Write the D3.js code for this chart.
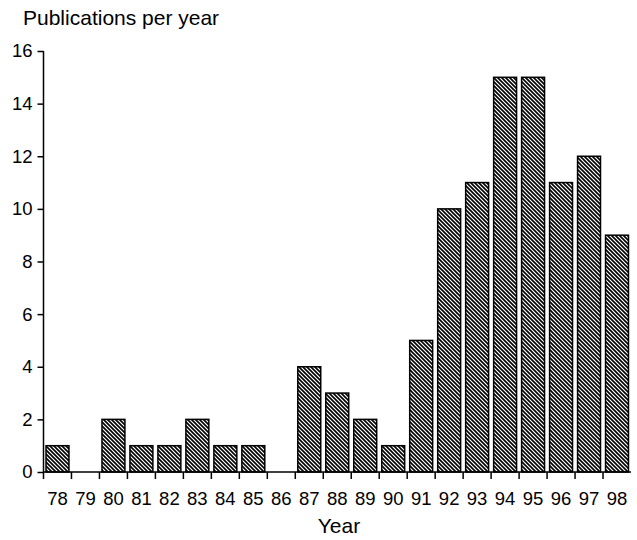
<!DOCTYPE html>
<html>
<head>
<meta charset="utf-8">
<script src="https://cdn.jsdelivr.net/npm/d3@7"></script>
<style>
  body { margin: 0; background: #fff; }
  text { font-family: "Liberation Sans", Arial, sans-serif; fill: #000; }
</style>
</head>
<body>
<div id="chart"></div>
<script>
// data
var years = ["78","79","80","81","82","83","84","85","86","87","88","89","90","91","92","93","94","95","96","97","98"];
var counts = [1,0,2,1,1,2,1,1,0,4,3,2,1,5,10,11,15,15,11,12,9];
var yTicks = [0,2,4,6,8,10,12,14,16];

var width = 637, height = 540;
var margin = { top: 51, right: 6, bottom: 68, left: 43.5 };

var svg = d3.select("#chart").append("svg")
  .attr("width", width)
  .attr("height", height);

// hatch fill
var defs = svg.append("defs");
defs.append("pattern")
  .attr("id", "hatch")
  .attr("patternUnits", "userSpaceOnUse")
  .attr("width", 4)
  .attr("height", 4)
  .append("path")
  .attr("d", "M-1,-1L5,5M-1,3L1,5M3,-1L5,1")
  .attr("stroke", "#000")
  .attr("stroke-width", 1.6);

var x = d3.scaleBand()
  .domain(years)
  .range([margin.left, width - margin.right])
  .paddingInner(0.18)
  .paddingOuter(0.09);

var y = d3.scaleLinear()
  .domain([0, 16])
  .range([height - margin.bottom, margin.top]);

// bars
svg.selectAll("rect.bar")
  .data(years.map((d, i) => ({ year: d, n: counts[i] })).filter(d => d.n > 0))
  .enter()
  .append("rect")
  .attr("class", "bar")
  .attr("x", d => x(d.year))
  .attr("width", x.bandwidth())
  .attr("y", d => y(d.n))
  .attr("height", d => y(0) - y(d.n))
  .attr("fill", "url(#hatch)")
  .attr("stroke", "#000")
  .attr("stroke-width", 1.5);

// y axis
var yAxis = svg.append("g")
  .attr("transform", "translate(" + margin.left + ",0)")
  .call(d3.axisLeft(y).tickValues(yTicks).tickSize(6).tickPadding(5));
yAxis.select(".domain").attr("d", "M0," + y(16) + "V" + y(0)).attr("stroke-width", 1.5);
yAxis.selectAll(".tick line").attr("stroke-width", 1.5);
yAxis.selectAll("text").attr("font-size", 18.5);

// x axis, ticks at band boundaries
var edges = d3.range(years.length + 1).map(i => margin.left + i * (width - margin.right - margin.left) / years.length);
var xg = svg.append("g");
xg.append("line")
  .attr("x1", margin.left).attr("x2", width - margin.right)
  .attr("y1", y(0)).attr("y2", y(0))
  .attr("stroke", "#000").attr("stroke-width", 1.5);
xg.selectAll("line.tk")
  .data(edges.slice(0, years.length))
  .enter().append("line")
  .attr("class", "tk")
  .attr("x1", d => d).attr("x2", d => d)
  .attr("y1", y(0)).attr("y2", y(0) + 7)
  .attr("stroke", "#000").attr("stroke-width", 1.5);
xg.selectAll("text")
  .data(years)
  .enter().append("text")
  .attr("x", d => x(d) + x.bandwidth() / 2)
  .attr("y", y(0) + 33)
  .attr("text-anchor", "middle")
  .attr("font-size", 18.5)
  .text(d => d);

// titles
svg.append("text")
  .attr("x", 23).attr("y", 25)
  .attr("font-size", 21)
  .text("Publications per year");

svg.append("text")
  .attr("x", 339).attr("y", 533)
  .attr("text-anchor", "middle")
  .attr("font-size", 21)
  .text("Year");
</script>
</body>
</html>
